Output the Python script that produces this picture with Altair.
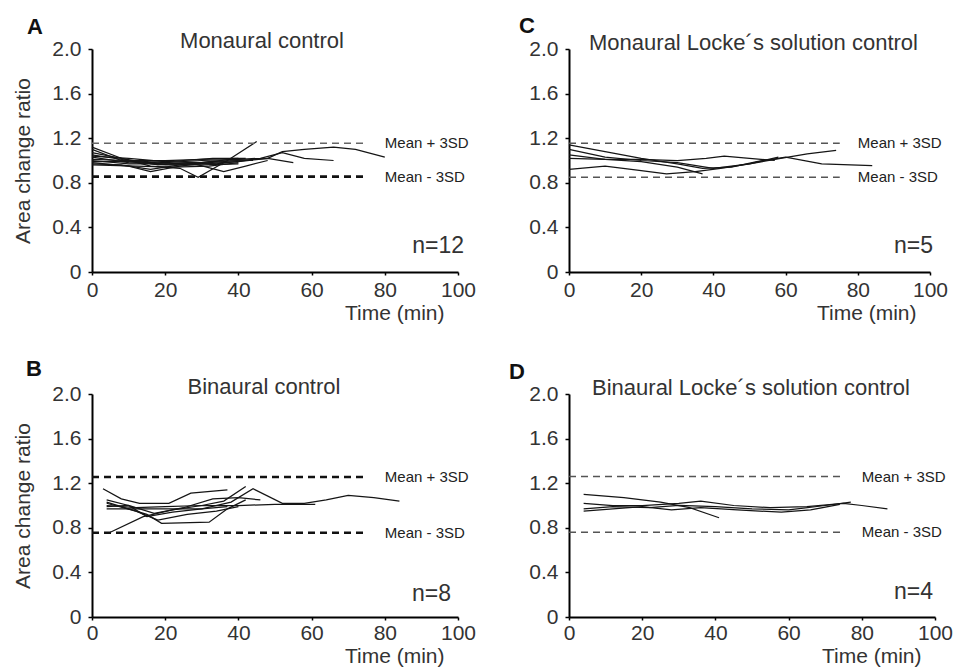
import altair as alt
import pandas as pd

FONT = "Liberation Sans"

# ---------------- data ----------------
panel_titles = {
    "A": "Monaural control",
    "C": "Monaural Locke\u00b4s solution control",
    "B": "Binaural control",
    "D": "Binaural Locke\u00b4s solution control",
}
n_labels = {"A": "n=12", "C": "n=5", "B": "n=8", "D": "n=4"}
mean_plus_3sd = {"A": 1.155, "C": 1.155, "B": 1.255, "D": 1.26}
mean_minus_3sd = {"A": 0.855, "C": 0.85, "B": 0.755, "D": 0.76}
band_labels = ["Mean + 3SD", "Mean - 3SD"]

x_ticks = [0, 20, 40, 60, 80, 100]
y_ticks = [0, 0.2, 0.4, 0.6, 0.8, 1.0, 1.2, 1.4, 1.6, 1.8, 2.0]

# Panel A: monaural control (12 ears)
A_time = [
    [0, 8, 16, 24, 29, 37, 45],
    [0, 10, 20, 30, 40, 48, 52, 58, 66, 72, 80],
    [0, 10, 20, 30, 40, 46, 52, 58, 66],
    [0, 8, 16, 24, 32, 40, 48, 55],
    [0, 8, 16, 25, 33, 42],
    [0, 10, 16, 24, 32, 40],
    [0, 10, 20, 28, 36, 42, 48],
    [0, 8, 18, 26, 34, 42],
    [0, 10, 20, 30, 40],
    [0, 10, 20, 30, 40],
    [0, 12, 22, 32, 40],
    [0, 10, 20, 30, 38, 44],
]
A_ratio = [
    [1.12, 1.02, 0.95, 0.93, 0.85, 1.00, 1.17],
    [1.00, 0.97, 0.97, 0.97, 0.99, 1.02, 1.08, 1.10, 1.12, 1.10, 1.03],
    [1.05, 1.00, 0.98, 1.00, 1.01, 1.02, 1.07, 1.02, 1.00],
    [0.97, 0.96, 0.92, 0.96, 0.99, 1.00, 1.02, 0.98],
    [1.10, 1.00, 0.98, 1.00, 1.02, 1.02],
    [0.98, 0.95, 0.90, 0.95, 0.98, 1.00],
    [1.03, 0.98, 0.97, 0.97, 0.90, 0.95, 1.00],
    [1.07, 1.02, 0.96, 0.98, 0.97, 1.00],
    [0.99, 0.99, 0.96, 0.96, 0.97],
    [1.01, 1.00, 1.00, 1.01, 1.02],
    [0.96, 0.95, 0.94, 0.95, 0.98],
    [1.04, 1.02, 0.99, 0.98, 1.01, 1.00],
]

# Panel C: monaural Locke's solution control (5 ears)
C_time = [
    [0, 10, 20, 30, 37, 45, 52, 60, 70, 84],
    [0, 10, 20, 30, 40, 50, 57, 66, 74],
    [0, 10, 20, 27, 35, 42, 50, 58],
    [0, 10, 20, 30, 38, 43, 50, 57],
    [0, 10, 20, 30, 37],
]
C_ratio = [
    [1.14, 1.08, 1.02, 0.97, 0.93, 0.94, 0.99, 1.03, 0.97, 0.955],
    [1.10, 1.03, 1.00, 0.98, 0.93, 0.97, 1.01, 1.06, 1.09],
    [0.92, 0.95, 0.91, 0.88, 0.90, 0.93, 0.97, 1.03],
    [1.02, 1.01, 1.01, 1.00, 1.02, 1.04, 1.02, 1.00],
    [1.05, 1.01, 0.99, 0.94, 0.88],
]

# Panel B: binaural control (8 ears)
B_time = [
    [3, 8, 13, 21, 27, 37],
    [5, 14, 22, 30, 36, 42],
    [4, 12, 20, 30, 38, 44, 52, 58, 64, 70, 77, 84],
    [4, 12, 20, 30, 40, 50, 61],
    [4, 10, 15, 19, 32, 37, 42],
    [4, 10, 15, 22, 30, 37],
    [4, 10, 17, 25, 33, 40, 46],
    [4, 12, 18, 26, 34, 40],
]
B_ratio = [
    [1.15, 1.06, 1.02, 1.02, 1.11, 1.14],
    [0.76, 0.90, 0.96, 1.00, 1.04, 1.17],
    [0.97, 0.97, 0.97, 0.97, 1.03, 1.15, 1.02, 1.02, 1.05, 1.09, 1.07, 1.04],
    [1.00, 0.98, 0.99, 1.00, 1.00, 1.01, 1.01],
    [1.03, 0.97, 0.92, 0.84, 0.85, 0.97, 1.05],
    [1.05, 1.00, 0.90, 0.94, 0.97, 0.99],
    [0.99, 1.00, 0.93, 0.98, 1.06, 1.07, 1.05],
    [1.02, 0.95, 0.87, 0.92, 0.95, 0.99],
]

# Panel D: binaural Locke's solution control (4 ears)
D_time = [
    [4, 15, 25, 33, 41],
    [4, 12, 20, 30, 36, 45, 55, 65, 75, 80, 87],
    [4, 12, 22, 30, 40, 50, 60, 70, 77],
    [4, 12, 20, 28, 36, 46, 58, 66, 74],
]
D_ratio = [
    [1.10, 1.07, 1.03, 0.98, 0.89],
    [1.02, 1.00, 1.00, 1.02, 1.04, 1.00, 0.98, 0.99, 1.02, 1.00, 0.97],
    [0.97, 0.99, 0.98, 1.00, 0.99, 0.97, 0.96, 1.00, 1.03],
    [0.95, 0.97, 0.99, 0.96, 0.98, 0.96, 0.94, 0.96, 1.01],
]

series = {
    "A": (A_time, A_ratio),
    "C": (C_time, C_ratio),
    "B": (B_time, B_ratio),
    "D": (D_time, D_ratio),
}

# ---------------- layout / style ----------------
layout = {
    "A": dict(w=366, h=223, tdx=-13, ty=-1, lx=-65, ly=-15, nx=6, ny=19, ytitle=True, xty=30, lp=4,
              up=("#666666", 1.4), lo=("#111111", 2.6)),
    "C": dict(w=361, h=223, tdx=4, ty=1, lx=-50, ly=-16, nx=3, ny=19, ytitle=False, xty=30, lp=4,
              up=("#555555", 1.5), lo=("#555555", 1.5)),
    "B": dict(w=366, h=223, tdx=-11, ty=0, lx=-66, ly=-18, nx=-7, ny=16, ytitle=True, xty=28, lp=2,
              up=("#111111", 2.6), lo=("#111111", 2.6)),
    "D": dict(w=366, h=223, tdx=-1, ty=1, lx=-60, ly=-15, nx=-2, ny=18, ytitle=False, xty=28, lp=2,
              up=("#555555", 1.5), lo=("#555555", 1.5)),
}

y_label_expr = ("datum.value == 0 ? '0\u00a0\u00a0' : "
                "(round(datum.value * 10) % 4 == 0 ? format(datum.value, '.1f') : '')")


def make_panel(pid):
    cfg = layout[pid]
    W, H = cfg["w"], cfg["h"]
    times, ratios = series[pid]
    rows = []
    for i, (ts, vs) in enumerate(zip(times, ratios)):
        for t, v in zip(ts, vs):
            rows.append({"series": i, "time": t, "ratio": v})
    df = pd.DataFrame(rows)

    x_axis = alt.Axis(
        values=x_ticks, format="d", title="Time (min)",
        domainColor="black", domainWidth=2, tickColor="black", tickWidth=1.5, tickSize=3,
        labelFont=FONT, labelFontSize=21, labelColor="#333333", labelPadding=cfg["lp"],
        labelFlush=False, grid=False,
        titleFont=FONT, titleFontSize=21, titleFontWeight="normal", titleColor="#333333",
        titleAlign="right", titleBaseline="top", titleX=W - 14, titleY=cfg["xty"],
    )
    y_axis_kw = dict(
        values=y_ticks, labelExpr=y_label_expr,
        domainColor="black", domainWidth=2, tickColor="black", tickWidth=1.5, tickSize=4,
        labelFont=FONT, labelFontSize=21, labelColor="#333333", labelPadding=7,
        grid=False,
        titleFont=FONT, titleFontSize=21, titleFontWeight="normal", titleColor="#333333",
        titlePadding=18,
    )
    if cfg["ytitle"]:
        y_axis = alt.Axis(title="Area change ratio", **y_axis_kw)
    else:
        y_axis = alt.Axis(title=None, **y_axis_kw)

    xs = alt.Scale(domain=[0, 100], nice=False, zero=False)
    ys = alt.Scale(domain=[0, 2], nice=False)

    lines = alt.Chart(df).mark_line(color="#151515", strokeWidth=1.25).encode(
        x=alt.X("time:Q", scale=xs, axis=x_axis),
        y=alt.Y("ratio:Q", scale=ys, axis=y_axis),
        detail="series:N",
    )

    up_df = pd.DataFrame({"ratio": [mean_plus_3sd[pid]], "label": [band_labels[0]]})
    lo_df = pd.DataFrame({"ratio": [mean_minus_3sd[pid]], "label": [band_labels[1]]})

    def band_rule(d, style):
        color, width = style
        return alt.Chart(d).mark_rule(color=color, strokeWidth=width, strokeDash=[7, 5]).encode(
            x=alt.datum(0, scale=xs), x2=alt.datum(75),
            y=alt.Y("ratio:Q", scale=ys),
        )

    def band_text(d):
        return alt.Chart(d).mark_text(
            align="left", baseline="middle", font=FONT, fontSize=15, color="#222222"
        ).encode(
            x=alt.datum(80, scale=xs), y=alt.Y("ratio:Q", scale=ys), text="label:N"
        )

    title_df = pd.DataFrame({"label": [panel_titles[pid]]})
    title = alt.Chart(title_df).mark_text(
        align="center", baseline="alphabetic", font=FONT, fontSize=22, color="#333333"
    ).encode(x=alt.value(W / 2 + cfg["tdx"]), y=alt.value(cfg["ty"]), text="label:N")

    letter_df = pd.DataFrame({"label": [pid]})
    letter = alt.Chart(letter_df).mark_text(
        align="left", baseline="alphabetic", font=FONT, fontSize=22, fontWeight="bold",
        color="#111111"
    ).encode(x=alt.value(cfg["lx"]), y=alt.value(cfg["ly"]), text="label:N")

    n_df = pd.DataFrame({"label": [n_labels[pid]]})
    n_text = alt.Chart(n_df).mark_text(
        align="right", baseline="alphabetic", font=FONT, fontSize=23, color="#333333"
    ).encode(x=alt.value(W + cfg["nx"]), y=alt.value(H - cfg["ny"]), text="label:N")

    return alt.layer(
        lines,
        band_rule(up_df, cfg["up"]), band_rule(lo_df, cfg["lo"]),
        band_text(up_df), band_text(lo_df),
        title, letter, n_text,
    ).properties(width=W, height=H)


chart = alt.concat(
    make_panel("A"), make_panel("C"), make_panel("B"), make_panel("D"),
    columns=2, spacing={"row": 122, "column": 111}, bounds="flush",
).configure_view(
    stroke=None
).properties(background="white", padding={"left": 4, "top": 7, "right": 5, "bottom": 5})

chart.save("out.html", embed_options={"renderer": "svg", "actions": False})
